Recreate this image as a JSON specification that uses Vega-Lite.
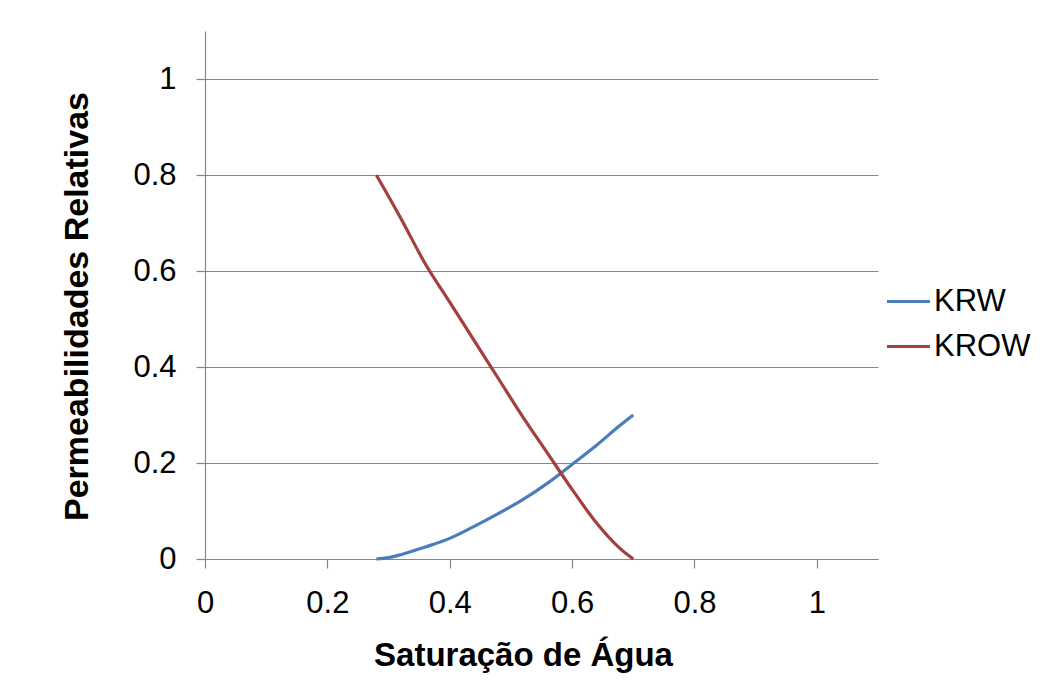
{
  "$schema": "https://vega.github.io/schema/vega-lite/v6.json",
  "width": 673,
  "height": 528,
  "autosize": {"type": "none"},
  "padding": {"left": 205, "top": 31, "right": 173, "bottom": 127},
  "background": "white",
  "config": {
    "font": "Liberation Sans",
    "view": {"stroke": null},
    "axis": {
      "domainColor": "#868686",
      "tickColor": "#868686",
      "gridColor": "#868686",
      "domainWidth": 1.2,
      "tickWidth": 1.2,
      "gridWidth": 1.2,
      "gridOpacity": 1,
      "tickSize": 9,
      "labelFont": "Liberation Sans",
      "labelFontSize": 31,
      "labelColor": "#000000",
      "titleFont": "Liberation Sans",
      "titleFontSize": 33,
      "titleFontWeight": "bold",
      "titleColor": "#000000"
    }
  },
  "data": {
    "values": [
      {"Sw": 0.28, "serie": "KRW", "kr": 0.0},
      {"Sw": 0.30, "serie": "KRW", "kr": 0.003},
      {"Sw": 0.32, "serie": "KRW", "kr": 0.009},
      {"Sw": 0.36, "serie": "KRW", "kr": 0.025},
      {"Sw": 0.40, "serie": "KRW", "kr": 0.043},
      {"Sw": 0.44, "serie": "KRW", "kr": 0.068},
      {"Sw": 0.48, "serie": "KRW", "kr": 0.095},
      {"Sw": 0.52, "serie": "KRW", "kr": 0.124},
      {"Sw": 0.56, "serie": "KRW", "kr": 0.158},
      {"Sw": 0.60, "serie": "KRW", "kr": 0.197},
      {"Sw": 0.64, "serie": "KRW", "kr": 0.237},
      {"Sw": 0.68, "serie": "KRW", "kr": 0.280},
      {"Sw": 0.70, "serie": "KRW", "kr": 0.300},
      {"Sw": 0.28, "serie": "KROW", "kr": 0.80},
      {"Sw": 0.32, "serie": "KROW", "kr": 0.71},
      {"Sw": 0.36, "serie": "KROW", "kr": 0.615},
      {"Sw": 0.40, "serie": "KROW", "kr": 0.535},
      {"Sw": 0.44, "serie": "KROW", "kr": 0.455},
      {"Sw": 0.48, "serie": "KROW", "kr": 0.375},
      {"Sw": 0.52, "serie": "KROW", "kr": 0.295},
      {"Sw": 0.56, "serie": "KROW", "kr": 0.22},
      {"Sw": 0.60, "serie": "KROW", "kr": 0.145},
      {"Sw": 0.64, "serie": "KROW", "kr": 0.075},
      {"Sw": 0.68, "serie": "KROW", "kr": 0.02},
      {"Sw": 0.70, "serie": "KROW", "kr": 0.0}
    ]
  },
  "mark": {"type": "line", "strokeWidth": 3.2, "interpolate": "monotone"},
  "encoding": {
    "x": {
      "field": "Sw",
      "type": "quantitative",
      "scale": {"domain": [0, 1.1], "nice": false},
      "axis": {
        "title": "Saturação de Água",
        "values": [0, 0.2, 0.4, 0.6, 0.8, 1],
        "format": "~g",
        "grid": false,
        "labelFlush": false,
        "labelPadding": 20,
        "labelBaseline": "top",
        "titleX": 318,
        "titleY": 106,
        "titleBaseline": "alphabetic"
      }
    },
    "y": {
      "field": "kr",
      "type": "quantitative",
      "scale": {"domain": [0, 1.1], "nice": false},
      "axis": {
        "title": "Permeabilidades Relativas",
        "values": [0, 0.2, 0.4, 0.6, 0.8, 1],
        "format": "~g",
        "grid": true,
        "labelFlush": false,
        "labelPadding": 20,
        "titleFontSize": 34,
        "titleX": -128,
        "titleY": 275,
        "titleBaseline": "middle",
        "titleAngle": -90
      }
    },
    "color": {
      "field": "serie",
      "type": "nominal",
      "sort": ["KRW", "KROW"],
      "scale": {"domain": ["KRW", "KROW"], "range": ["#4A7EBB", "#A33F3C"]},
      "legend": {
        "title": null,
        "orient": "none",
        "legendX": 680,
        "legendY": 247,
        "symbolType": "stroke",
        "symbolSize": 1849,
        "symbolStrokeWidth": 3.2,
        "labelFontSize": 31,
        "labelFont": "Liberation Sans",
        "labelColor": "#000000",
        "labelOffset": 2,
        "rowPadding": 6
      }
    }
  }
}
